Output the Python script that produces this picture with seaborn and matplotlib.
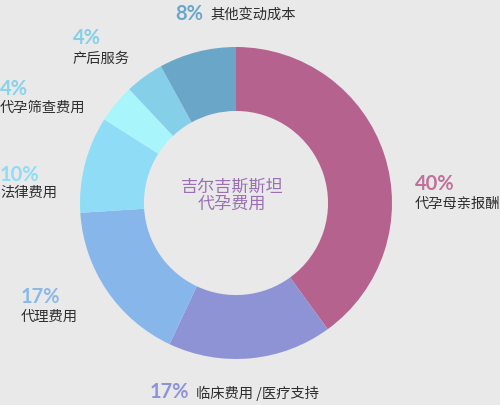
import matplotlib
matplotlib.use("Agg")
import matplotlib.pyplot as plt
import seaborn as sns

sns.set_theme(style="white")
plt.rcParams['font.family'] = ['Noto Sans CJK SC', 'DejaVu Sans']

# slices, clockwise from 12 o'clock
categories = ["代孕母亲报酬", "临床费用 /医疗支持", "代理费用", "法律费用",
              "代孕筛查费用", "产后服务", "其他变动成本"]
shares = [40, 17, 17, 10, 4, 4, 8]
slice_colors = ["#b5628e", "#8e93d6", "#86b6ea", "#8fdcf7",
                "#a8f6fc", "#85d0e8", "#6aa6c8"]
pct_colors = ["#c0709a", "#8e93d6", "#8ab8e8", "#8fdcf7",
              "#85d3ec", "#85d0e8", "#6aa6c8"]
center_title = ["吉尔吉斯斯坦", "代孕费用"]

W, H = 500, 405
bg = "#e9e9e9"
fig = plt.figure(figsize=(W / 100, H / 100), dpi=100, facecolor=bg)

# donut: centre (236, 203) px, outer radius 156 px
cx, cy, R = 236, 203, 156
ax = fig.add_axes([(cx - R) / W, (H - cy - R) / H, 2 * R / W, 2 * R / H])
ax.set_facecolor(bg)
ax.pie(shares, colors=slice_colors, startangle=90, counterclock=False,
       radius=1.0, wedgeprops=dict(width=0.41, edgecolor="none"))
ax.set_xlim(-1, 1)
ax.set_ylim(-1, 1)
ax.set_aspect("equal")
ax.axis("off")


def px(x, y):
    return x / W, 1 - y / H


pct_font = dict(family=["Lato", "DejaVu Sans"], fontweight="bold", fontsize=14.5)
lbl_font = dict(fontsize=10.3, color="#2e2e2e")

# (pct x, pct y, label x, label y) in pixels, per slice
label_pos = [
    (415, 184, 415, 204),   # 40%
    (150, 392, 196, 393),   # 17% clinical (inline)
    (21, 297, 21, 317),     # 17% agency
    (0, 175, 0, 193),       # 10%
    (0, 89, 0, 108),        # 4% screening
    (73, 38, 73, 59),       # 4% postnatal
    (175, 14, 210, 15),     # 8% (inline)
]

for name, val, col, (x1, y1, x2, y2) in zip(categories, shares, pct_colors, label_pos):
    fig.text(*px(x1, y1), f"{val}%", color=col, ha="left", va="center", **pct_font)
    fig.text(*px(x2, y2), name, ha="left", va="center", **lbl_font)

fig.text(*px(232, 187), center_title[0], ha="center", va="center",
         fontsize=12.3, color="#9a70b2")
fig.text(*px(232, 204), center_title[1], ha="center", va="center",
         fontsize=12.3, color="#9a70b2")

fig.savefig("out.png", dpi=100, facecolor=bg)
